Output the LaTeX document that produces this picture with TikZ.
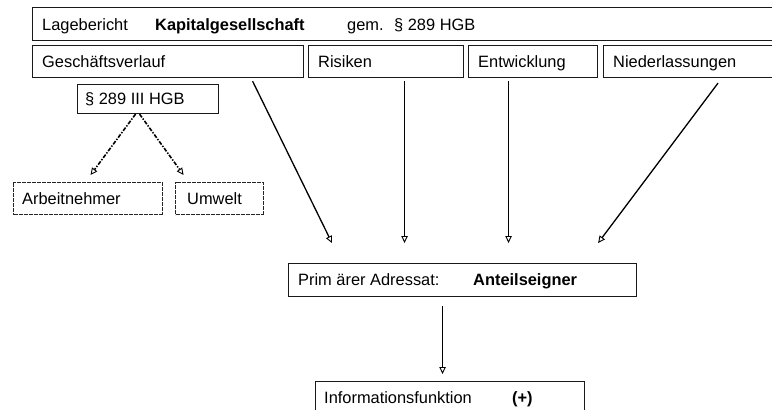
\documentclass[tikz,border=0pt]{standalone}
\usepackage{fontspec}
\setmainfont{Liberation Sans}
\usetikzlibrary{arrows.meta}
\begin{document}
\begin{tikzpicture}[x=1pt,y=-1pt,
  box/.style={draw=black!90,line width=1.1pt,inner sep=0pt,anchor=north west},
  dbox/.style={draw=black!85,line width=1.1pt,dash pattern=on 2pt off 0.5pt,inner sep=0pt,anchor=north west},
  lbl/.style={inner sep=0pt,anchor=base west,font=\fontsize{16.4}{19}\selectfont},
  blbl/.style={lbl,font=\fontsize{16.4}{19}\selectfont\bfseries},
  arr/.style={line width=1.3pt,-{Triangle[open,length=7pt,width=6.5pt,line width=0.9pt]}},
  darr/.style={line width=1.6pt,dash pattern=on 4pt off 1.5pt on 1.4pt off 1.5pt,-{Triangle[open,length=7pt,width=6.5pt,line width=0.9pt]}}
]
\useasboundingbox (0,0) rectangle (772,410);
\clip (0,0) rectangle (772,410);
% boxes
\node[box,minimum width=748pt,minimum height=33pt] (top) at (32,7) {};
\node[box,minimum width=271pt,minimum height=32pt] (gesch) at (32,45) {};
\node[box,minimum width=155pt,minimum height=32pt] (risiken) at (308,45) {};
\node[box,minimum width=129pt,minimum height=32pt] (entw) at (468,45) {};
\node[box,minimum width=177pt,minimum height=32pt] (nieder) at (603,45) {};
\node[box,minimum width=141pt,minimum height=29pt] (para) at (77,84) {};
\node[dbox,minimum width=149pt,minimum height=32pt] (arbeit) at (13,182) {};
\node[dbox,minimum width=88pt,minimum height=32pt] (umwelt) at (175,182) {};
\node[box,minimum width=348pt,minimum height=33pt] (prim) at (288,263) {};
\node[box,minimum width=269pt,minimum height=33pt] (info) at (315,381) {};
% labels
\node[lbl] (t1) at (42,30) {Lagebericht};
\node[blbl] (t2) at (155,30) {Kapitalgesellschaft};
\node[lbl] (t3) at (347,30) {gem.};
\node[lbl] (t4) at (394,30) {§ 289 HGB};
\node[lbl] (l1) at (42,67) {Geschäftsverlauf};
\node[lbl] (l2) at (318,67) {Risiken};
\node[lbl] (l3) at (478,67) {Entwicklung};
\node[lbl] (l4) at (613,67) {Niederlassungen};
\node[lbl] (l5) at (85,104) {§ 289 III HGB};
\node[lbl] (l6) at (22,204) {Arbeitnehmer};
\node[lbl] (l7) at (187,204) {Umwelt};
\node[lbl] (l8) at (298,285) {Prim ärer Adressat:};
\node[blbl] (l9) at (473,285) {Anteilseigner};
\node[lbl] (l10) at (324,403) {Informationsfunktion};
\node[blbl] (l11) at (512,403) {(+)};
% connectors
\draw[arr] ([shift={(84.5,3)}]gesch.south) -- ([shift={(44,-20)}]prim.north west);
\draw[arr] ([shift={(18.5,3)}]risiken.south) -- ([shift={(-58,-20)}]prim.north);
\draw[arr] ([shift={(-24.5,3)}]entw.south) -- ([shift={(46,-20)}]prim.north);
\draw[arr] ([shift={(115,5)}]nieder.south west) -- ([shift={(-39,-20)}]prim.north east);
\draw[arr] ([shift={(-20,9)}]prim.south) -- ([shift={(-7.5,-7)}]info.north);
\draw[darr] ([shift={(-12.5,0)}]para.south) -- ([shift={(2.5,-7)}]arbeit.north);
\draw[darr] ([shift={(-8.5,0)}]para.south) -- ([shift={(-36,-7)}]umwelt.north);
\end{tikzpicture}
\end{document}
